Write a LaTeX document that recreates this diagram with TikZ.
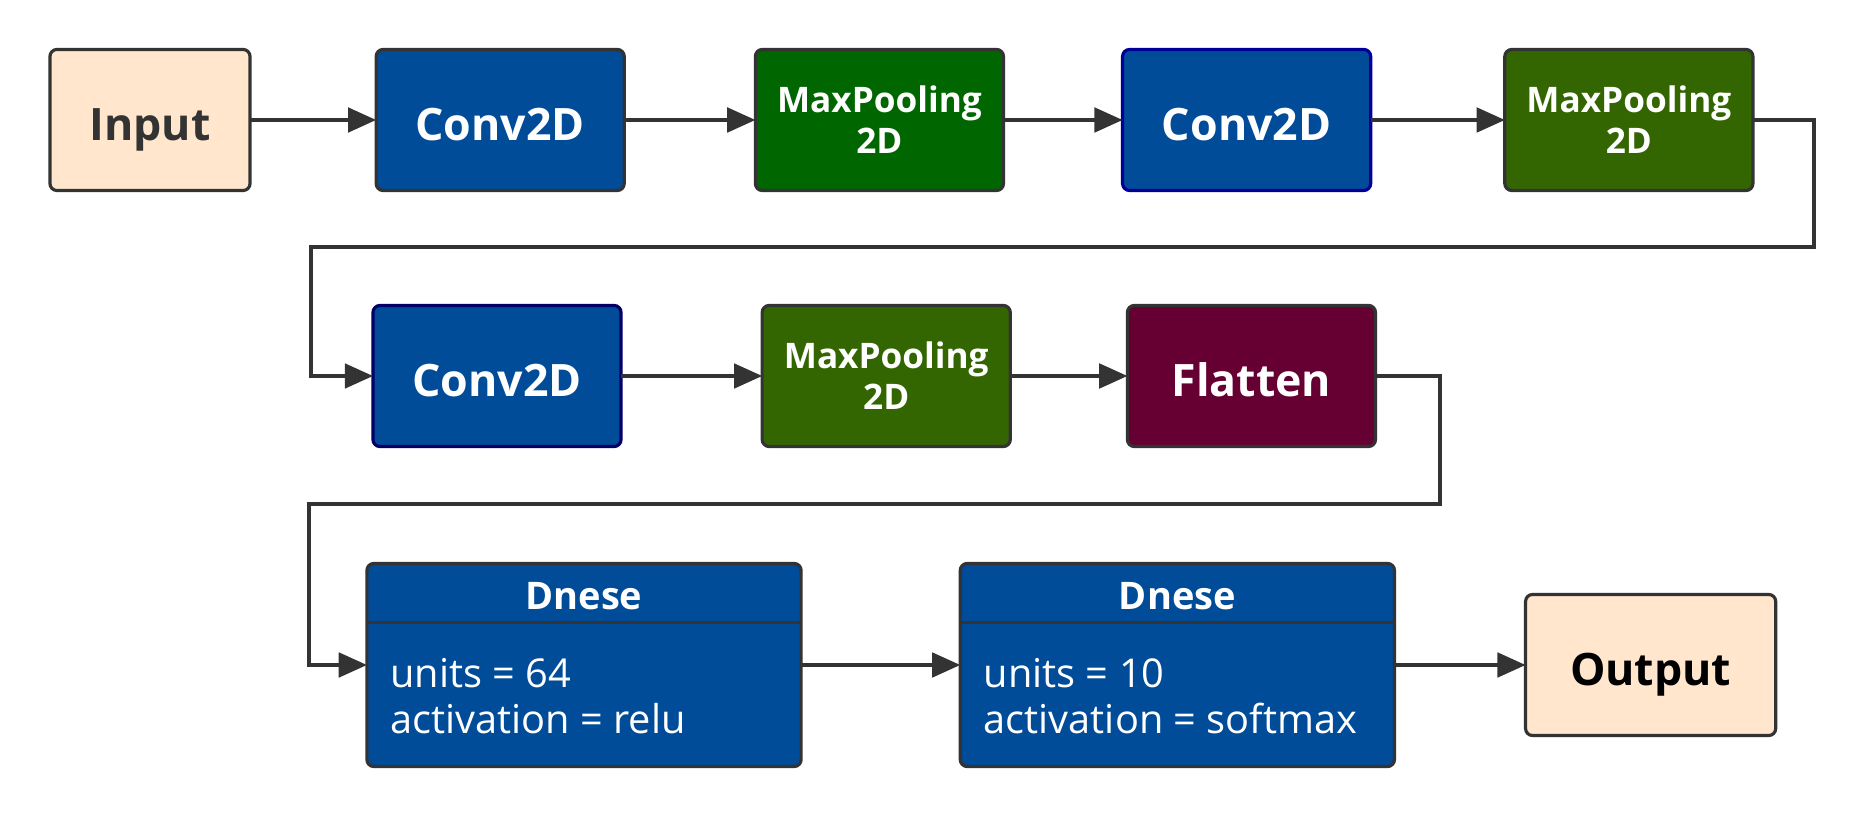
\documentclass[tikz,border=0pt]{standalone}
\usepackage{fontspec}
\setmainfont{Open Sans}
\usetikzlibrary{arrows.meta,positioning}
\definecolor{edge}{HTML}{333333}
\definecolor{peach}{HTML}{FFE6CC}
\definecolor{convblue}{HTML}{004C99}
\definecolor{poolgreen}{HTML}{006600}
\definecolor{poololive}{HTML}{336600}
\definecolor{flatred}{HTML}{660033}

\begin{document}
\begin{tikzpicture}[x=0.01cm,y=-0.01cm,>={Triangle[length=8pt,width=7pt]},line width=0.9pt,
 blk/.style={draw=edge,rounded corners=2pt,minimum width=2.48cm,minimum height=1.41cm,align=center,text=white,
   font=\fontsize{12.7}{15}\selectfont\bfseries,inner sep=2pt,outer sep=0pt,text height=11.4pt,text depth=0pt},
 io/.style={blk,fill=peach,text=edge},
 conv/.style={blk,fill=convblue},
 pool/.style={blk,fill=poolgreen,font=\fontsize{10}{11.6}\selectfont\bfseries,text height=,text depth=,
   execute at begin node={\rule{0pt}{10.4pt}}},
 dns/.style={draw=edge,rounded corners=2pt,fill=convblue,minimum width=4.34cm,minimum height=2.03cm,outer sep=0pt},
 dnshd/.style={minimum width=4.34cm,minimum height=0.59cm,inner sep=0pt,outer sep=0pt,text=white,
   font=\fontsize{10.8}{13}\selectfont\bfseries,text height=9.4pt,text depth=0pt},
 dnstx/.style={align=left,inner sep=0pt,text=white,font=\fontsize{11.3}{13.2}\selectfont},
 wire/.style={draw=edge,->}]
\useasboundingbox (0,0) rectangle (1864,816);
% first row
\node[io,minimum width=2cm] (in) at (150,120) {Input};
\node[conv,right=1.26cm of in] (c1) {Conv2D};
\node[pool,right=1.31cm of c1] (p1) {MaxPooling\\2D};
\node[conv,right=1.19cm of p1,draw=blue!60!black] (c2) {Conv2D};
\node[pool,right=1.34cm of c2,fill=poololive] (p2) {MaxPooling\\2D};
\draw[wire] (in)--(c1); \draw[wire] (c1)--(p1); \draw[wire] (p1)--(c2); \draw[wire] (c2)--(p2);
% second row
\node[conv,draw=blue!40!black] (c3) at (497,376) {Conv2D};
\node[pool,right=1.41cm of c3,fill=poololive] (p3) {MaxPooling\\2D};
\node[blk,right=1.17cm of p3,fill=flatred] (fl) {Flatten};
\coordinate (t1) at (1814,247);
\coordinate (t2) at (311,247);
\draw[wire] (p2.east) -| (t1) -- (t2) |- (c3.west);
\draw[wire] (c3)--(p3); \draw[wire] (p3)--(fl);
% dense row
\node[dns] (d1) at (584,665) {};
\node[dnshd,below=0pt of d1.north] (d1h) {Dnese};
\draw[edge] (d1h.south west) -- (d1h.south east);
\node[dnstx,anchor=west] (d1t) at ([xshift=0.22cm,yshift=-0.31cm]d1.west) {units = 64\\activation = relu};
\node[dns,right=1.59cm of d1] (d2) {};
\node[dnshd,below=0pt of d2.north] (d2h) {Dnese};
\draw[edge] (d2h.south west) -- (d2h.south east);
\node[dnstx,anchor=west] (d2t) at ([xshift=0.22cm,yshift=-0.31cm]d2.west) {units = 10\\activation = softmax};
\node[io,right=1.31cm of d2,text=black,minimum width=2.5cm] (out) {Output};
\coordinate (t3) at (1440,504);
\coordinate (t4) at (309,504);
\draw[wire] (fl.east) -| (t3) -- (t4) |- (d1.west);
\draw[wire] (d1)--(d2); \draw[wire] (d2)--(out);
\end{tikzpicture}
\end{document}
